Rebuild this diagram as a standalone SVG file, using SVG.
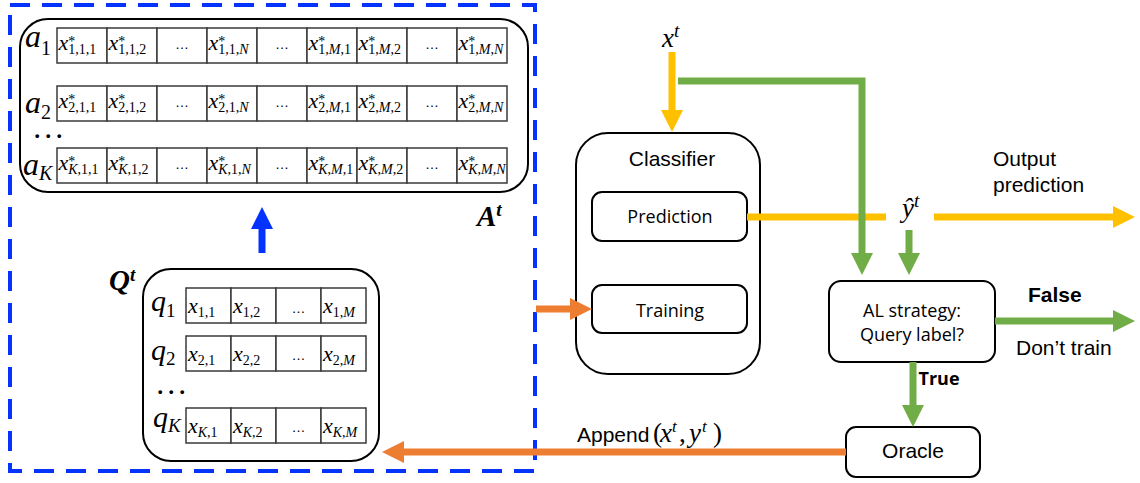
<svg xmlns="http://www.w3.org/2000/svg" width="1140" height="483" viewBox="0 0 1140 483">
<style>
.box{fill:#fff;stroke:#000;stroke-width:2}
.cell{fill:#fff;stroke:#3a3a3a;stroke-width:1.5}
.v{font-family:"Liberation Serif",serif;font-style:italic;font-size:22px;fill:#000}
.sb{font-size:14px;font-style:normal}
.stt{font-size:14px;font-style:normal}
.it{font-style:italic}
.dots{font-family:"Liberation Sans",sans-serif;font-size:14px;text-anchor:middle;fill:#000}
.ml{font-family:"Liberation Serif",serif;font-style:italic;font-size:32px;fill:#000}
.mq{font-family:"Liberation Serif",serif;font-style:italic;font-size:30px;fill:#000}
.mb{font-family:"Liberation Serif",serif;font-style:italic;font-weight:bold;font-size:29px;fill:#000}
.mx{font-family:"Liberation Serif",serif;font-style:italic;font-size:27px;fill:#000}
.h{font-family:"Liberation Sans",Arial,sans-serif;font-size:21px;fill:#000}
.c{font-family:"Open Sans",sans-serif;font-size:18px;fill:#000;text-anchor:middle}
.ln{fill:none;stroke-width:7;stroke-linejoin:miter}
</style>
<defs>
<marker id="hY" markerUnits="userSpaceOnUse" markerWidth="22" markerHeight="22" refX="0" refY="11" orient="auto"><path d="M0,0 L22,11 L0,22 z" fill="#FFC000"/></marker>
<marker id="hG" markerUnits="userSpaceOnUse" markerWidth="22" markerHeight="22" refX="0" refY="11" orient="auto"><path d="M0,0 L22,11 L0,22 z" fill="#70AD47"/></marker>
<marker id="hO" markerUnits="userSpaceOnUse" markerWidth="22" markerHeight="22" refX="0" refY="11" orient="auto"><path d="M0,0 L22,11 L0,22 z" fill="#ED7D31"/></marker>
<marker id="hB" markerUnits="userSpaceOnUse" markerWidth="22" markerHeight="22" refX="0" refY="11" orient="auto"><path d="M0,0 L22,11 L0,22 z" fill="#0433FF"/></marker>
</defs>

<g id="memory-region">
<rect x="10" y="5" width="525" height="466" fill="none" stroke="#0433FF" stroke-width="4" stroke-dasharray="20 12"/>
</g>

<g id="A-node">
<rect class="box" x="20" y="19" width="508" height="173" rx="28"/>
<g class="cells">
<rect class="cell" x="57" y="28" width="50" height="35"/><rect class="cell" x="107" y="28" width="50" height="35"/><rect class="cell" x="157" y="28" width="50" height="35"/><rect class="cell" x="207" y="28" width="50" height="35"/><rect class="cell" x="257" y="28" width="50" height="35"/><rect class="cell" x="307" y="28" width="50" height="35"/><rect class="cell" x="357" y="28" width="50" height="35"/><rect class="cell" x="407" y="28" width="50" height="35"/><rect class="cell" x="457" y="28" width="50" height="35"/>
<rect class="cell" x="57" y="86" width="50" height="35"/><rect class="cell" x="107" y="86" width="50" height="35"/><rect class="cell" x="157" y="86" width="50" height="35"/><rect class="cell" x="207" y="86" width="50" height="35"/><rect class="cell" x="257" y="86" width="50" height="35"/><rect class="cell" x="307" y="86" width="50" height="35"/><rect class="cell" x="357" y="86" width="50" height="35"/><rect class="cell" x="407" y="86" width="50" height="35"/><rect class="cell" x="457" y="86" width="50" height="35"/>
<rect class="cell" x="57" y="148" width="50" height="35"/><rect class="cell" x="107" y="148" width="50" height="35"/><rect class="cell" x="157" y="148" width="50" height="35"/><rect class="cell" x="207" y="148" width="50" height="35"/><rect class="cell" x="257" y="148" width="50" height="35"/><rect class="cell" x="307" y="148" width="50" height="35"/><rect class="cell" x="357" y="148" width="50" height="35"/><rect class="cell" x="407" y="148" width="50" height="35"/><rect class="cell" x="457" y="148" width="50" height="35"/>
</g>
<text class="ml" x="25" y="47">a<tspan font-size="20" font-style="normal" dy="8">1</tspan></text>
<text class="ml" x="25" y="113">a<tspan font-size="20" font-style="normal" dy="6">2</tspan></text>
<text class="ml" x="34" y="138" font-size="20" font-style="normal" letter-spacing="3">...</text>
<text class="ml" x="23" y="175">a<tspan font-size="20" dy="5">K</tspan></text>
<!-- row 1 -->
<text class="v" x="58.5" y="50">x<tspan class="stt" dy="-4">*</tspan><tspan class="sb" dx="-7" dy="8">1,1,1</tspan></text>
<text class="v" x="108.5" y="50">x<tspan class="stt" dy="-4">*</tspan><tspan class="sb" dx="-7" dy="8">1,1,2</tspan></text>
<text class="dots" x="182" y="49">…</text>
<text class="v" x="208.5" y="50">x<tspan class="stt" dy="-4">*</tspan><tspan class="sb" dx="-7" dy="8">1,1,<tspan class="it">N</tspan></tspan></text>
<text class="dots" x="282" y="49">…</text>
<text class="v" x="308.5" y="50">x<tspan class="stt" dy="-4">*</tspan><tspan class="sb" dx="-7" dy="8">1,<tspan class="it">M</tspan>,1</tspan></text>
<text class="v" x="358.5" y="50">x<tspan class="stt" dy="-4">*</tspan><tspan class="sb" dx="-7" dy="8">1,<tspan class="it">M</tspan>,2</tspan></text>
<text class="dots" x="432" y="49">…</text>
<text class="v" x="458.5" y="50">x<tspan class="stt" dy="-4">*</tspan><tspan class="sb" dx="-7" dy="8">1,<tspan class="it">M</tspan>,<tspan class="it">N</tspan></tspan></text>
<!-- row 2 -->
<text class="v" x="58.5" y="108">x<tspan class="stt" dy="-4">*</tspan><tspan class="sb" dx="-7" dy="8">2,1,1</tspan></text>
<text class="v" x="108.5" y="108">x<tspan class="stt" dy="-4">*</tspan><tspan class="sb" dx="-7" dy="8">2,1,2</tspan></text>
<text class="dots" x="182" y="107">…</text>
<text class="v" x="208.5" y="108">x<tspan class="stt" dy="-4">*</tspan><tspan class="sb" dx="-7" dy="8">2,1,<tspan class="it">N</tspan></tspan></text>
<text class="dots" x="282" y="107">…</text>
<text class="v" x="308.5" y="108">x<tspan class="stt" dy="-4">*</tspan><tspan class="sb" dx="-7" dy="8">2,<tspan class="it">M</tspan>,1</tspan></text>
<text class="v" x="358.5" y="108">x<tspan class="stt" dy="-4">*</tspan><tspan class="sb" dx="-7" dy="8">2,<tspan class="it">M</tspan>,2</tspan></text>
<text class="dots" x="432" y="107">…</text>
<text class="v" x="458.5" y="108">x<tspan class="stt" dy="-4">*</tspan><tspan class="sb" dx="-7" dy="8">2,<tspan class="it">M</tspan>,<tspan class="it">N</tspan></tspan></text>
<!-- row K -->
<text class="v" x="58.5" y="170">x<tspan class="stt" dy="-4">*</tspan><tspan class="sb" dx="-7" dy="8"><tspan class="it">K</tspan>,1,1</tspan></text>
<text class="v" x="108.5" y="170">x<tspan class="stt" dy="-4">*</tspan><tspan class="sb" dx="-7" dy="8"><tspan class="it">K</tspan>,1,2</tspan></text>
<text class="dots" x="182" y="169">…</text>
<text class="v" x="208.5" y="170">x<tspan class="stt" dy="-4">*</tspan><tspan class="sb" dx="-7" dy="8"><tspan class="it">K</tspan>,1,<tspan class="it">N</tspan></tspan></text>
<text class="dots" x="282" y="169">…</text>
<text class="v" x="308.5" y="170">x<tspan class="stt" dy="-4">*</tspan><tspan class="sb" dx="-7" dy="8"><tspan class="it">K</tspan>,<tspan class="it">M</tspan>,1</tspan></text>
<text class="v" x="358.5" y="170">x<tspan class="stt" dy="-4">*</tspan><tspan class="sb" dx="-7" dy="8"><tspan class="it">K</tspan>,<tspan class="it">M</tspan>,2</tspan></text>
<text class="dots" x="432" y="169">…</text>
<text class="v" x="458.5" y="170">x<tspan class="stt" dy="-4">*</tspan><tspan class="sb" dx="-7" dy="8"><tspan class="it">K</tspan>,<tspan class="it">M</tspan>,<tspan class="it">N</tspan></tspan></text>
<text class="mb" x="477" y="226">A<tspan font-size="19" dy="-10">t</tspan></text>
</g>

<g id="Q-node">
<rect class="box" x="143" y="269" width="236" height="192" rx="28"/>
<g class="cells">
<rect class="cell" x="186" y="288" width="45" height="35"/><rect class="cell" x="231" y="288" width="45" height="35"/><rect class="cell" x="276" y="288" width="45" height="35"/><rect class="cell" x="321" y="288" width="45" height="35"/>
<rect class="cell" x="186" y="336" width="45" height="35"/><rect class="cell" x="231" y="336" width="45" height="35"/><rect class="cell" x="276" y="336" width="45" height="35"/><rect class="cell" x="321" y="336" width="45" height="35"/>
<rect class="cell" x="186" y="408" width="45" height="35"/><rect class="cell" x="231" y="408" width="45" height="35"/><rect class="cell" x="276" y="408" width="45" height="35"/><rect class="cell" x="321" y="408" width="45" height="35"/>
</g>
<text class="mb" x="109" y="290">Q<tspan font-size="19" dy="-9">t</tspan></text>
<text class="mq" x="151" y="311">q<tspan font-size="19" font-style="normal" dy="6">1</tspan></text>
<text class="mq" x="151" y="360">q<tspan font-size="19" font-style="normal" dy="5">2</tspan></text>
<text class="ml" x="157" y="394" font-size="18" font-style="normal" letter-spacing="3">...</text>
<text class="mq" x="153" y="427">q<tspan font-size="19" dy="5">K</tspan></text>
<text class="v" x="188" y="313">x<tspan class="sb" dy="4">1,1</tspan></text>
<text class="v" x="233" y="313">x<tspan class="sb" dy="4">1,2</tspan></text>
<text class="dots" x="298.5" y="313">…</text>
<text class="v" x="323" y="313">x<tspan class="sb" dy="4">1,<tspan class="it">M</tspan></tspan></text>
<text class="v" x="188" y="361">x<tspan class="sb" dy="4">2,1</tspan></text>
<text class="v" x="233" y="361">x<tspan class="sb" dy="4">2,2</tspan></text>
<text class="dots" x="298.5" y="360">…</text>
<text class="v" x="323" y="361">x<tspan class="sb" dy="4">2,<tspan class="it">M</tspan></tspan></text>
<text class="v" x="188" y="433">x<tspan class="sb" dy="4"><tspan class="it">K</tspan>,1</tspan></text>
<text class="v" x="233" y="433">x<tspan class="sb" dy="4"><tspan class="it">K</tspan>,2</tspan></text>
<text class="dots" x="298.5" y="432">…</text>
<text class="v" x="323" y="433">x<tspan class="sb" dy="4"><tspan class="it">K</tspan>,<tspan class="it">M</tspan></tspan></text>
</g>

<g id="classifier-node">
<rect class="box" x="576" y="133" width="184" height="241" rx="32"/>
<text class="h" x="672" y="166" text-anchor="middle">Classifier</text>
</g>
<g id="prediction-node">
<rect class="box" x="592" y="192" width="155" height="49" rx="10"/>
<text class="c" x="670" y="223">Prediction</text>
</g>
<g id="training-node">
<rect class="box" x="592" y="285" width="155" height="48" rx="10"/>
<text class="c" x="670" y="317">Training</text>
</g>
<g id="al-node">
<rect class="box" x="829" y="281" width="166" height="81" rx="12"/>
<text class="c" x="912" y="317" font-size="19">AL strategy:</text>
<text class="c" x="912" y="341" font-size="19">Query label?</text>
</g>
<g id="oracle-node">
<rect class="box" x="846" y="427" width="134" height="50" rx="10"/>
<text class="h" x="913" y="458" font-size="19" text-anchor="middle">Oracle</text>
</g>

<g id="connectors">
<line class="ln" x1="672" y1="52" x2="672" y2="110" stroke="#FFC000" marker-end="url(#hY)"/>
<line class="ln" x1="747" y1="217" x2="886" y2="217" stroke="#FFC000"/>
<line class="ln" x1="934" y1="217" x2="1113" y2="217" stroke="#FFC000" marker-end="url(#hY)"/>
<polyline class="ln" points="678,81 862,81 862,253" stroke="#70AD47" marker-end="url(#hG)"/>
<line class="ln" x1="909" y1="230" x2="909" y2="253" stroke="#70AD47" marker-end="url(#hG)"/>
<line class="ln" x1="995" y1="321" x2="1113" y2="321" stroke="#70AD47" marker-end="url(#hG)"/>
<line class="ln" x1="913" y1="362" x2="913" y2="405" stroke="#70AD47" marker-end="url(#hG)"/>
<line class="ln" x1="846" y1="452" x2="404" y2="452" stroke="#ED7D31" marker-end="url(#hO)"/>
<line class="ln" x1="536" y1="309" x2="570" y2="309" stroke="#ED7D31" marker-end="url(#hO)"/>
<line class="ln" x1="262" y1="253" x2="262" y2="229" stroke="#0433FF" stroke-width="8" marker-end="url(#hB)"/>
</g>

<g id="labels">
<text class="mx" x="662" y="47">x<tspan font-size="19" dy="-10">t</tspan></text>
<text class="mx" x="902" y="217">ŷ<tspan font-size="19" dy="-10">t</tspan></text>
<text class="h" x="993" y="166">Output</text>
<text class="h" x="993" y="192">prediction</text>
<text class="h" x="1028" y="302" font-weight="bold">False</text>
<text class="h" x="1016" y="355">Don’t train</text>
<text class="c" x="939" y="385" font-size="16" font-weight="bold">True</text>
<text class="h" x="577" y="442" font-size="20">Append</text>
<text class="mx" y="442" font-size="25"><tspan x="653" font-style="normal">(</tspan><tspan x="660">x</tspan><tspan x="672" dy="-10" font-size="17">t</tspan><tspan x="679" dy="10" font-style="normal">,</tspan><tspan x="689">y</tspan><tspan x="702" dy="-10" font-size="17">t</tspan><tspan x="713" dy="10" font-style="normal">)</tspan></text>
</g>
</svg>
